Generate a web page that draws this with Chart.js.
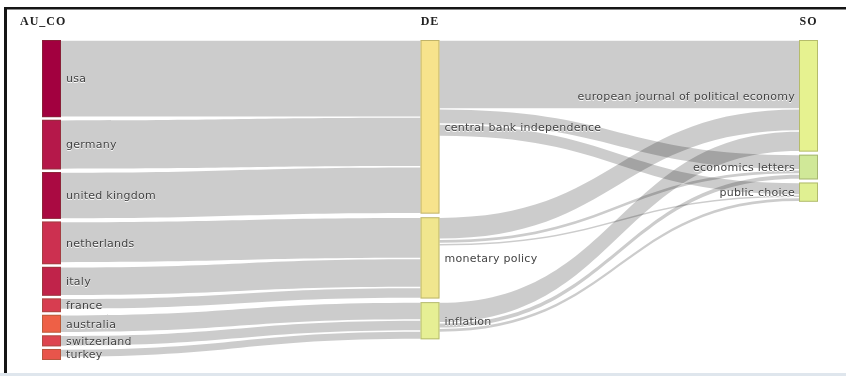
<!DOCTYPE html>
<html>
<head>
<meta charset="utf-8">
<script src="https://cdn.jsdelivr.net/npm/chart.js@4.4.1/dist/chart.umd.min.js"></script>
<style>
  html, body { margin: 0; padding: 0; background: #fff; }
</style>
</head>
<body>
<canvas id="myChart" width="846" height="376"></canvas>
<script>
// the three fields of the plot
var countries = ['usa', 'germany', 'united kingdom', 'netherlands', 'italy', 'france', 'australia', 'switzerland', 'turkey'];
var keywords = ['central bank independence', 'monetary policy', 'inflation'];
var sources = ['european journal of political economy', 'economics letters', 'public choice'];
var columnTitles = ['AU_CO', 'DE', 'SO'];

// size of each country box (documents)
var countryTotals = [28, 18, 17, 15.5, 10.5, 5, 6.5, 4, 4];

// country -> keyword flows
var countryFrom = ['usa', 'germany', 'united kingdom', 'netherlands', 'italy', 'france', 'australia', 'switzerland', 'turkey'];
var countryTo = ['central bank independence', 'central bank independence', 'central bank independence',
  'monetary policy', 'monetary policy', 'monetary policy', 'inflation', 'inflation', 'inflation'];
var countryValues = [28, 18, 17, 15, 10.5, 4, 6.5, 4, 3];

// keyword -> source flows
var keywordFrom = ['central bank independence', 'central bank independence', 'central bank independence',
  'monetary policy', 'monetary policy', 'monetary policy', 'inflation', 'inflation', 'inflation'];
var keywordTo = ['european journal of political economy', 'economics letters', 'public choice',
  'european journal of political economy', 'economics letters', 'public choice',
  'european journal of political economy', 'economics letters', 'public choice'];
var keywordValues = [25, 5.5, 4.5, 8, 1.5, 1, 7.5, 2, 1.5];

var nodeColors = {
  'usa': '#a2003f', 'germany': '#b5184a', 'united kingdom': '#aa0a42', 'netherlands': '#cc3050',
  'italy': '#c0234a', 'france': '#d73d50', 'australia': '#ee6046', 'switzerland': '#dd444f', 'turkey': '#e8554b',
  'central bank independence': '#f7e38c', 'monetary policy': '#f0e68e', 'inflation': '#e6ef94',
  'european journal of political economy': '#e6f290', 'economics letters': '#d0e898', 'public choice': '#e0f092'
};

var GAPS = [0.95, 1.3, 1.1]; // space between nodes per column (value units)
var NODE_W = 19;             // node width in px

// build links + node layout (in value units)
var links = [];
countryValues.forEach(function (v, i) { links.push({ source: countryFrom[i], target: countryTo[i], value: v }); });
keywordValues.forEach(function (v, i) { links.push({ source: keywordFrom[i], target: keywordTo[i], value: v }); });

var columns = [countries, keywords, sources];
var nodes = {};
var yMax = 0;
columns.forEach(function (col, c) {
  var y = 0;
  col.forEach(function (name, i) {
    var inV = 0, outV = 0;
    links.forEach(function (l) {
      if (l.target === name) inV += l.value;
      if (l.source === name) outV += l.value;
    });
    var v = Math.max(inV, outV, c === 0 ? countryTotals[i] : 0);
    nodes[name] = { name: name, col: c, y0: y, y1: y + v };
    yMax = Math.max(yMax, y + v);
    y += v + GAPS[c];
  });
});

Object.keys(nodes).forEach(function (name) {
  var n = nodes[name];
  var outs = links.filter(function (l) { return l.source === name; })
    .sort(function (a, b) { return nodes[a.target].y0 - nodes[b.target].y0; });
  var s = n.y0;
  outs.forEach(function (l) { l.sy0 = s; s += l.value; l.sy1 = s; });
  var ins = links.filter(function (l) { return l.target === name; })
    .sort(function (a, b) { return nodes[a.source].y0 - nodes[b.source].y0; });
  var t = n.y0;
  ins.forEach(function (l) { l.ty0 = t; t += l.value; l.ty1 = t; });
});

function drawLink(ctx, x0, x1, a0, a1, b0, b1) {
  // small inset so neighbouring flows show a thin white seam
  var ins = 0.7;
  if (a1 - a0 > 2.5) { a0 += ins; a1 -= ins; b0 += ins; b1 -= ins; }
  var xm = (x0 + x1) / 2;
  ctx.beginPath();
  ctx.moveTo(x0, a0);
  ctx.bezierCurveTo(xm, a0, xm, b0, x1, b0);
  ctx.lineTo(x1, b1);
  ctx.bezierCurveTo(xm, b1, xm, a1, x0, a1);
  ctx.closePath();
  ctx.fill();
}

var sankeyPlugin = {
  id: 'sankey',
  beforeDraw: function (chart) {
    var ctx = chart.ctx;
    ctx.save();
    ctx.fillStyle = '#fff';
    ctx.fillRect(0, 0, chart.width, chart.height);
    // frame
    ctx.fillStyle = '#151515';
    ctx.fillRect(4, 7, chart.width - 4, 2.5);
    ctx.fillRect(4, 7, 3, 366);
    ctx.fillStyle = '#dfe6ed';
    ctx.fillRect(0, 373, chart.width, 3);
    ctx.restore();
  },
  afterDraw: function (chart) {
    var ctx = chart.ctx;
    var xs = chart.scales.x, ys = chart.scales.y;
    ctx.save();

    // flows
    ctx.fillStyle = 'rgba(0,0,0,0.2)';
    links.forEach(function (l) {
      var s = nodes[l.source], t = nodes[l.target];
      var x0 = xs.getPixelForValue(s.col) + NODE_W;
      var x1 = xs.getPixelForValue(t.col);
      drawLink(ctx, x0, x1,
        ys.getPixelForValue(l.sy0), ys.getPixelForValue(l.sy1),
        ys.getPixelForValue(l.ty0), ys.getPixelForValue(l.ty1));
    });

    // nodes
    Object.keys(nodes).forEach(function (name) {
      var n = nodes[name];
      var x = xs.getPixelForValue(n.col);
      var y0 = ys.getPixelForValue(n.y0), y1 = ys.getPixelForValue(n.y1);
      ctx.fillStyle = nodeColors[name];
      ctx.fillRect(x, y0, NODE_W, y1 - y0);
      ctx.strokeStyle = 'rgba(90,90,40,0.35)';
      ctx.lineWidth = 1;
      ctx.strokeRect(x + 0.5, y0 + 0.5, NODE_W - 1, y1 - y0 - 1);
    });

    // labels
    ctx.font = '11px "DejaVu Sans"';
    ctx.letterSpacing = '0.25px';
    ctx.textBaseline = 'middle';
    ctx.shadowColor = '#fff';
    ctx.shadowOffsetY = 1;
    ctx.fillStyle = '#444';
    Object.keys(nodes).forEach(function (name) {
      var n = nodes[name];
      var x = xs.getPixelForValue(n.col);
      var yc = (ys.getPixelForValue(n.y0) + ys.getPixelForValue(n.y1)) / 2 + 1;
      if (n.col === 2) {
        ctx.textAlign = 'right';
        ctx.fillText(name, x - 4, yc);
      } else {
        ctx.textAlign = 'left';
        ctx.fillText(name, x + NODE_W + 5, yc);
      }
    });
    ctx.shadowColor = 'transparent';

    // column titles
    ctx.font = 'bold 12px "Liberation Serif"';
    ctx.letterSpacing = '1px';
    ctx.fillStyle = '#222';
    ctx.textBaseline = 'alphabetic';
    columnTitles.forEach(function (t, c) {
      var x = xs.getPixelForValue(c);
      if (c === 0) {
        ctx.textAlign = 'left';
        ctx.fillText(t, 20, 25);
      } else {
        ctx.textAlign = 'center';
        ctx.fillText(t, x + NODE_W / 2, 25);
      }
    });
    ctx.restore();
  }
};

var ctx = document.getElementById('myChart').getContext('2d');
var chart = new Chart(ctx, {
  type: 'scatter',
  data: { datasets: [{ data: [] }] },
  options: {
    responsive: false,
    animation: false,
    devicePixelRatio: 1,
    layout: { padding: { left: 42, right: 47, top: 40, bottom: 16 } },
    scales: {
      x: { type: 'linear', min: 0, max: 2, display: false },
      y: { type: 'linear', min: 0, max: yMax, reverse: true, display: false }
    },
    plugins: { legend: { display: false }, tooltip: { enabled: false } }
  },
  plugins: [sankeyPlugin]
});
</script>
</body>
</html>
